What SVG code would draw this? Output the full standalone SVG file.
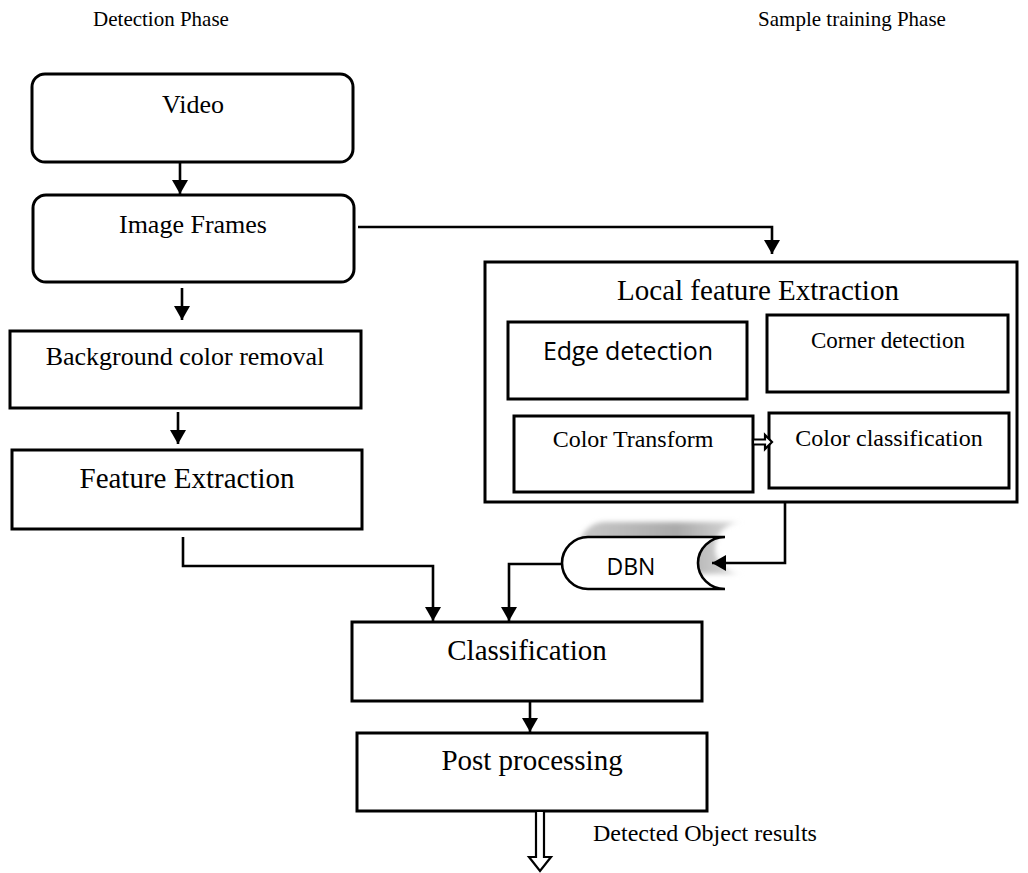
<svg xmlns="http://www.w3.org/2000/svg" width="1028" height="873" viewBox="0 0 1028 873">
<style>
.box{fill:#fff;stroke:#000;stroke-width:3}
.t{font-family:"Liberation Serif","Times New Roman",serif;fill:#000;text-anchor:middle}
.s{font-family:"Open Sans","Liberation Sans",sans-serif;fill:#000;text-anchor:middle}
.ln{fill:none;stroke:#000;stroke-width:2.6}
.hollow{fill:#fff;stroke:#000;stroke-width:2.2;stroke-linejoin:miter}
</style>
<defs>
<marker id="ah" viewBox="0 0 14 16" refX="14" refY="8" markerWidth="14" markerHeight="16" markerUnits="userSpaceOnUse" orient="auto">
<path d="M0,0 L14,8 L0,16 Z" fill="#000"/>
</marker>
<filter id="blur" x="-20%" y="-50%" width="140%" height="200%"><feGaussianBlur stdDeviation="2.5"/></filter>
<linearGradient id="shg" x1="0" y1="0" x2="1" y2="0">
<stop offset="0" stop-color="#c8c8c8"/><stop offset="0.6" stop-color="#aaa"/><stop offset="1" stop-color="#ddd"/>
</linearGradient>
</defs>
<rect width="1028" height="873" fill="#fff"/>
<text class="t" x="161" y="26" font-size="21">Detection Phase</text>
<text class="t" x="852" y="26" font-size="21">Sample training Phase</text>
<g id="video"><rect class="box" x="32" y="74" width="321" height="88" rx="13"/><text class="t" x="193" y="113" font-size="26">Video</text></g>
<g id="image-frames"><rect class="box" x="33" y="195" width="321" height="87" rx="13"/><text class="t" x="193" y="233" font-size="26">Image Frames</text></g>
<g id="background-removal"><rect class="box" x="10" y="331" width="351" height="77"/><text class="t" x="185" y="365" font-size="26">Background color removal</text></g>
<g id="feature-extraction"><rect class="box" x="12" y="450" width="350" height="79"/><text class="t" x="187" y="488" font-size="29">Feature Extraction</text></g>
<g id="local-feature-extraction"><rect class="box" x="485" y="262" width="532" height="240"/><text class="t" x="758" y="300" font-size="29">Local feature Extraction</text></g>
<g id="edge-detection"><rect class="box" x="508" y="322" width="239" height="77"/><text class="s" x="628" y="360" font-size="25" textLength="170">Edge detection</text></g>
<g id="corner-detection"><rect class="box" x="767" y="315" width="241" height="77"/><text class="t" x="888" y="348" font-size="23">Corner detection</text></g>
<g id="color-transform"><rect class="box" x="514" y="416" width="239" height="76"/><text class="t" x="633" y="447" font-size="24">Color Transform</text></g>
<g id="color-classification"><rect class="box" x="769" y="413" width="240" height="75"/><text class="t" x="889" y="446" font-size="24">Color classification</text></g>
<g id="dbn">
<path d="M605,522 A26,26 0 0 0 605,574 L742,574 A27,26 0 0 1 742,522 Z" fill="url(#shg)" filter="url(#blur)"/>
<path d="M588,537 A26,26 0 0 0 588,589 L725,589 A27,26 0 0 1 725,537 Z" fill="#fff"/>
<path d="M588,537 A26,26 0 0 0 588,589 L725,589 M725,537 A27,26 0 0 0 725,589 M725,537 L588,537" fill="none" stroke="#000" stroke-width="2.6"/>
<text class="s" x="631" y="575" font-size="23">DBN</text>
</g>
<g id="classification"><rect class="box" x="352" y="622" width="350" height="79"/><text class="t" x="527" y="660" font-size="29">Classification</text></g>
<g id="post-processing"><rect class="box" x="357" y="733" width="350" height="78"/><text class="t" x="532" y="770" font-size="29">Post processing</text></g>
<text class="t" x="593" y="841" font-size="24" style="text-anchor:start">Detected Object results</text>
<g id="connectors">
<path class="ln" d="M180,162 V194" marker-end="url(#ah)"/>
<path class="ln" d="M182,288 V320" marker-end="url(#ah)"/>
<path class="ln" d="M178,412 V444" marker-end="url(#ah)"/>
<path class="ln" d="M358,227 H772 V254" marker-end="url(#ah)"/>
<path class="ln" d="M183,537 V566 H433 V621" marker-end="url(#ah)"/>
<path class="ln" d="M785,502 V563 H712" marker-end="url(#ah)"/>
<path class="ln" d="M562,564 H509 V621" marker-end="url(#ah)"/>
<path class="ln" d="M530,701 V732" marker-end="url(#ah)"/>
<path class="hollow" d="M753,439.5 H765 V435 L772,442 L765,449 V444.5 H753 Z"/>
<path class="hollow" d="M536,812 V857 H529 L540,871 L551,857 H544 V812"/>
</g>
</svg>
